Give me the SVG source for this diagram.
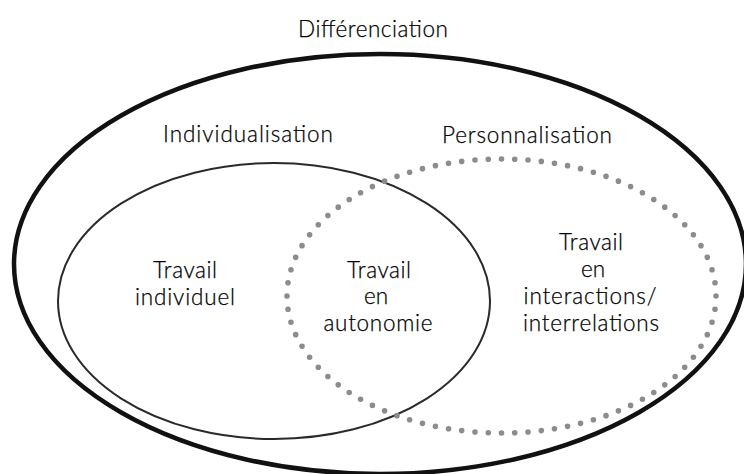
<svg xmlns="http://www.w3.org/2000/svg" width="744" height="474" viewBox="0 0 744 474">
<style>
text{font-family:Lato,"Noto Sans","DejaVu Sans",sans-serif;font-size:22.5px;font-weight:300;fill:#000;stroke:#000;stroke-width:0.25;text-anchor:middle}
.outer{fill:none;stroke:#111;stroke-width:4.5}
.indiv{fill:none;stroke:#2a2a2a;stroke-width:2}
.perso{fill:none;stroke:#8c8c8c;stroke-width:5.6;stroke-linecap:round;stroke-dasharray:0 1}
</style>
<rect width="744" height="474" fill="#fff"/>
<g id="differenciation">
<ellipse class="outer" cx="380" cy="264" rx="366" ry="210"/>
<text x="373" y="37" textLength="150" lengthAdjust="spacing">Différenciation</text>
</g>
<g id="individualisation">
<ellipse class="indiv" cx="274" cy="301" rx="216" ry="138"/>
<text x="248" y="142" textLength="170" lengthAdjust="spacing">Individualisation</text>
</g>
<g id="personnalisation">
<ellipse class="perso" cx="501.5" cy="296" rx="214.5" ry="137" pathLength="84"/>
<text x="527" y="143" textLength="170" lengthAdjust="spacing">Personnalisation</text>
</g>
<g id="travail-individuel">
<text x="185" y="278" textLength="64" lengthAdjust="spacing">Travail</text>
<text x="185" y="305" textLength="100" lengthAdjust="spacing">individuel</text>
</g>
<g id="travail-autonomie">
<text x="379" y="278" textLength="64" lengthAdjust="spacing">Travail</text>
<text x="376" y="304">en</text>
<text x="378" y="331" textLength="109" lengthAdjust="spacing">autonomie</text>
</g>
<g id="travail-interactions">
<text x="591" y="250" textLength="64" lengthAdjust="spacing">Travail</text>
<text x="593" y="277">en</text>
<text x="590" y="304" textLength="133" lengthAdjust="spacing">interactions/</text>
<text x="591" y="331" textLength="136" lengthAdjust="spacing">interrelations</text>
</g>
<g id="connectors"></g>
</svg>
